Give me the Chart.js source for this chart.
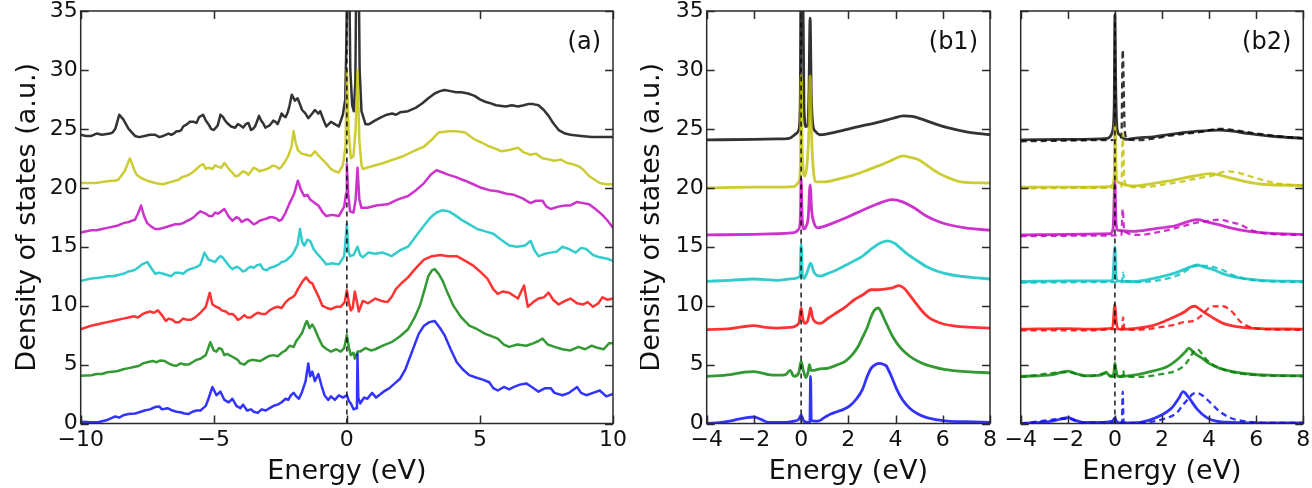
<!DOCTYPE html>
<html>
<head>
<meta charset="utf-8">
<script src="https://cdn.jsdelivr.net/npm/chart.js@4.4.1/dist/chart.umd.min.js"></script>
<style>
  html, body { margin: 0; padding: 0; background: #fff; }
  #wrap { position: relative; width: 1312px; height: 488px; background: #fff; overflow: hidden; }
  canvas { position: absolute; top: 0; }
</style>
</head>
<body>
<div id="wrap">
  <canvas id="ca" width="640" height="488" style="left:0px"></canvas>
  <canvas id="cb1" width="360" height="488" style="left:640px"></canvas>
  <canvas id="cb2" width="312" height="488" style="left:1000px"></canvas>
</div>
<script>
// ---------- tick labels / axis ranges ----------
const yTicks = [0, 5, 10, 15, 20, 25, 30, 35];
const xTicksA = [-10, -5, 0, 5, 10];
const xTicksB = [-4, -2, 0, 2, 4, 6, 8];
const panelLabels = ['(a)', '(b1)', '(b2)'];
const xTitle = 'Energy (eV)';
const yTitle = 'Density of states (a.u.)';

// ---------- panel (a): [energy, DOS] (points sorted by energy when plotted) ----------
const aBlue = [[-10,0.15],[-9.6,0.1],[-9.35,0.1],[-9.0,0.3],[-8.7,0.6],[-8.55,0.5],[-8.4,0.7],[-8.2,0.8],[-7.96,0.85],[-7.8,0.95],[-7.6,1.1],[-7.4,1.2],[-7.2,1.4],[-7.05,1.45],[-6.95,1.2],[-6.74,1.3],[-6.55,1.1],[-6.4,1.0],[-6.25,0.95],[-6.1,0.85],[-5.95,0.8],[-5.8,1.0],[-5.65,1.1],[-5.5,1.1],[-5.4,1.3],[-5.3,1.5],[-5.2,2.1],[-5.05,3.1],[-4.9,2.4],[-4.75,2.7],[-4.6,2.0],[-4.44,1.8],[-4.3,2.1],[-4.15,1.5],[-4.0,1.3],[-3.9,1.6],[-3.75,1.1],[-3.6,1.2],[-3.5,1.0],[-3.35,0.9],[-3.2,1.2],[-3.05,1.1],[-2.9,1.3],[-2.75,1.5],[-2.6,1.6],[-2.45,1.8],[-2.3,2.1],[-2.2,2.0],[-2.1,2.4],[-2.0,2.6],[-1.9,2.3],[-1.8,2.1],[-1.68,2.7],[-1.55,3.6],[-1.45,5.1],[-1.38,4.0],[-1.3,4.4],[-1.2,3.6],[-1.07,4.2],[-0.95,3.2],[-0.84,2.4],[-0.7,2.0],[-0.6,2.3],[-0.45,2.0],[-0.3,2.4],[-0.15,2.2],[0,2.4],[0.08,1.9],[0.15,1.7],[0.25,1.2],[0.35,1.3],[0.38,1.6],[0.4,5.9],[0.43,2.2],[0.5,1.7],[0.65,2.2],[0.77,2.1],[0.95,2.6],[1.1,2.2],[1.38,2.7],[1.6,3.0],[1.8,3.4],[2.0,3.8],[2.2,4.6],[2.45,6.1],[2.7,7.6],[2.9,8.3],[3.1,8.6],[3.3,8.7],[3.5,8.1],[3.67,7.5],[3.9,6.3],[4.13,5.2],[4.35,4.6],[4.6,4.1],[4.85,3.9],[5.13,3.7],[5.35,3.5],[5.5,3.0],[5.67,2.8],[5.9,3.1],[6.1,2.9],[6.28,3.1],[6.5,3.3],[6.74,3.4],[6.95,3.1],[7.2,2.7],[7.45,3.0],[7.66,3.0],[7.8,2.6],[8.1,2.4],[8.35,2.6],[8.65,3.1],[8.8,2.6],[9.0,2.4],[9.25,2.6],[9.5,2.8],[9.75,2.3],[10,2.5]];
const aGreen = [[-10,4.05],[-9.6,4.1],[-9.2,4.2],[-8.8,4.4],[-8.4,4.6],[-8.0,4.8],[-7.66,5.1],[-7.3,5.3],[-7.0,5.35],[-6.7,5.1],[-6.4,4.9],[-6.1,5.0],[-5.8,5.2],[-5.5,5.5],[-5.3,5.8],[-5.13,6.9],[-5.0,6.2],[-4.9,6.1],[-4.7,6.3],[-4.5,5.9],[-4.25,5.6],[-4.0,5.1],[-3.7,5.3],[-3.4,5.35],[-3.1,5.5],[-2.76,5.8],[-2.45,6.0],[-2.15,6.6],[-1.9,7.0],[-1.68,7.7],[-1.55,8.5],[-1.5,8.7],[-1.4,8.1],[-1.3,8.4],[-1.2,8.0],[-1.05,7.2],[-0.92,6.6],[-0.75,6.3],[-0.6,6.1],[-0.4,6.3],[-0.23,6.1],[-0.1,6.4],[0,7.5],[0.08,6.4],[0.15,5.8],[0.25,6.0],[0.3,5.5],[0.4,6.1],[0.5,6.1],[0.7,6.4],[0.9,6.2],[1.07,6.3],[1.35,6.6],[1.68,6.9],[2.0,7.4],[2.3,8.0],[2.55,9.0],[2.76,10.1],[2.95,11.6],[3.06,12.5],[3.2,13.0],[3.3,13.1],[3.45,12.7],[3.6,12.1],[3.8,11.0],[4.0,10.0],[4.3,9.0],[4.6,8.3],[4.9,8.0],[5.2,7.6],[5.45,7.4],[5.67,7.2],[5.9,6.7],[6.1,6.5],[6.4,6.7],[6.74,6.6],[7.0,6.8],[7.2,7.0],[7.35,7.2],[7.55,6.7],[7.8,6.5],[8.1,6.3],[8.4,6.2],[8.7,6.5],[8.95,6.3],[9.2,6.6],[9.45,6.4],[9.65,6.3],[9.85,6.8],[10,6.8],
  [-9.4,4.2],[-9.0,4.35],[-8.6,4.45],[-8.2,4.7],[-7.8,4.9],[-7.5,5.2],[-7.15,5.2],[-6.85,5.3],[-6.55,4.95],[-6.25,5.1],[-5.95,5.0],[-5.65,5.4],[-4.8,6.4],[-4.6,5.8],[-4.1,5.4],[-3.85,5.0],[-3.55,5.4],[-3.25,5.3],[-2.95,5.7],[-2.6,5.7],[-2.3,6.2],[-2.0,6.5],[-1.8,7.3]];
const aRed = [[-10,8.0],[-9.6,8.3],[-9.2,8.5],[-8.8,8.7],[-8.4,8.9],[-8.0,9.1],[-7.66,9.3],[-7.4,9.5],[-7.1,9.6],[-6.95,9.2],[-6.8,8.7],[-6.55,8.8],[-6.3,8.6],[-6.0,8.8],[-5.7,9.0],[-5.5,9.4],[-5.3,9.9],[-5.15,11.1],[-5.05,10.1],[-4.9,9.9],[-4.7,9.6],[-4.44,9.3],[-4.2,9.1],[-4.0,8.9],[-3.75,9.0],[-3.5,9.2],[-3.2,9.3],[-2.9,9.6],[-2.6,9.9],[-2.3,10.3],[-2.05,10.7],[-1.84,11.4],[-1.65,12.1],[-1.53,12.4],[-1.4,12.0],[-1.3,11.9],[-1.2,11.4],[-1.05,10.7],[-0.92,10.0],[-0.75,9.8],[-0.6,9.7],[-0.4,9.9],[-0.23,9.9],[-0.08,10.3],[0,11.3],[0.08,10.2],[0.15,9.6],[0.22,9.8],[0.3,11.2],[0.38,10.3],[0.45,9.5],[0.6,10.4],[0.8,10.2],[1.07,10.6],[1.3,10.4],[1.53,10.3],[1.7,10.8],[1.84,11.4],[2.05,11.9],[2.3,12.4],[2.6,13.2],[2.9,13.9],[3.2,14.2],[3.52,14.3],[3.8,14.2],[4.13,14.2],[4.45,13.8],[4.75,13.4],[5.0,12.9],[5.28,12.3],[5.5,11.4],[5.67,11.0],[5.85,11.2],[6.1,11.1],[6.3,10.8],[6.43,10.6],[6.55,11.2],[6.66,11.7],[6.75,10.5],[6.8,9.9],[7.0,10.3],[7.2,10.6],[7.4,10.7],[7.58,11.1],[7.75,10.5],[7.96,10.1],[8.2,10.4],[8.4,10.6],[8.65,10.2],[8.88,10.1],[9.05,10.3],[9.25,9.9],[9.45,10.2],[9.6,10.7],[9.8,10.5],[10,10.6],
  [-9.4,8.4],[-9.0,8.6],[-8.6,8.8],[-8.2,9.0],[-7.85,9.0],[-7.55,9.4],[-7.25,9.4],[-6.7,8.9],[-6.45,8.6],[-6.15,8.9],[-5.85,8.8],[-5.6,9.2],[-4.8,9.8],[-4.55,9.5],[-4.3,9.3],[-4.1,8.8],[-3.85,9.2],[-3.6,9.0],[-3.35,9.4],[-3.05,9.3],[-2.75,9.8],[-2.45,9.8],[-2.15,10.6],[-1.95,10.9]];
const aCyan = [[-10,12.1],[-9.6,12.3],[-9.2,12.4],[-8.8,12.5],[-8.4,12.7],[-8.0,13.0],[-7.7,13.5],[-7.5,13.7],[-7.35,13.2],[-7.2,12.7],[-6.9,12.7],[-6.6,12.5],[-6.3,12.8],[-6.0,13.0],[-5.75,13.2],[-5.5,13.5],[-5.35,14.5],[-5.2,13.9],[-5.05,13.8],[-4.85,14.0],[-4.67,14.1],[-4.5,13.6],[-4.3,13.1],[-4.05,13.2],[-3.8,13.0],[-3.6,13.3],[-3.4,13.4],[-3.15,13.1],[-2.9,13.2],[-2.65,13.4],[-2.45,13.7],[-2.2,14.0],[-2.0,14.5],[-1.85,15.2],[-1.76,16.5],[-1.68,15.4],[-1.6,15.1],[-1.48,15.6],[-1.38,15.5],[-1.25,14.8],[-1.15,14.5],[-0.95,14.0],[-0.77,13.5],[-0.55,13.6],[-0.3,13.5],[-0.1,14.2],[0,16.9],[0.06,14.6],[0.12,14.2],[0.25,14.3],[0.4,15.0],[0.5,14.3],[0.6,14.1],[0.8,14.5],[1.07,14.4],[1.35,14.5],[1.68,14.2],[2.0,14.7],[2.3,15.0],[2.6,15.9],[2.9,16.8],[3.15,17.5],[3.37,17.9],[3.6,18.1],[3.83,18.0],[4.05,17.7],[4.3,17.3],[4.6,16.9],[4.9,16.5],[5.2,16.3],[5.5,16.1],[5.8,15.6],[6.1,15.1],[6.4,15.0],[6.7,15.1],[6.9,15.5],[7.05,14.7],[7.2,14.2],[7.45,14.4],[7.66,14.5],[7.9,14.6],[8.1,15.0],[8.35,14.8],[8.6,14.5],[8.8,14.9],[9.0,14.8],[9.25,14.3],[9.5,14.1],[9.75,14.0],[10,13.8],
  [-9.4,12.35],[-9.0,12.5],[-8.6,12.6],[-8.2,12.9],[-7.85,13.2],[-7.05,12.8],[-6.75,12.6],[-6.45,12.8],[-6.15,12.7],[-5.9,13.1],[-5.62,13.3],[-4.95,13.7],[-4.75,14.2],[-4.4,13.3],[-4.15,13.3],[-3.9,12.9],[-3.7,13.2],[-3.5,13.2],[-3.25,13.5],[-3.0,13.0],[-2.75,13.3],[-2.55,13.5],[-2.3,13.8],[-2.1,14.2]];
const aMagenta = [[-10,16.2],[-9.6,16.4],[-9.2,16.5],[-8.8,16.7],[-8.4,17.0],[-7.96,17.3],[-7.85,17.8],[-7.73,18.5],[-7.62,17.6],[-7.5,17.0],[-7.2,16.5],[-6.9,16.6],[-6.6,16.8],[-6.3,16.9],[-6.0,17.2],[-5.75,17.5],[-5.5,18.0],[-5.3,17.8],[-5.05,17.6],[-4.85,17.8],[-4.6,18.2],[-4.45,17.6],[-4.3,17.2],[-4.05,17.4],[-3.8,17.3],[-3.6,17.1],[-3.4,17.0],[-3.15,17.3],[-2.9,17.5],[-2.65,17.4],[-2.45,17.3],[-2.3,17.9],[-2.15,18.7],[-1.98,19.5],[-1.84,20.6],[-1.72,19.8],[-1.6,19.3],[-1.48,19.4],[-1.38,19.0],[-1.2,18.7],[-1.07,18.5],[-0.9,17.9],[-0.77,17.6],[-0.55,17.7],[-0.3,17.6],[-0.1,18.4],[-0.03,19.5],[0,22.0],[0.05,19.5],[0.12,18.0],[0.25,17.9],[0.33,19.0],[0.4,21.7],[0.47,19.0],[0.55,18.3],[0.77,18.3],[1.1,18.5],[1.53,18.6],[1.9,19.0],[2.3,19.3],[2.6,19.8],[2.9,20.4],[3.15,21.1],[3.37,21.5],[3.6,21.3],[3.83,21.1],[4.1,20.9],[4.44,20.6],[4.75,20.3],[5.05,20.0],[5.35,19.8],[5.67,19.7],[6.0,19.5],[6.28,19.4],[6.6,19.1],[6.9,18.7],[7.1,18.9],[7.35,18.9],[7.5,18.4],[7.66,18.2],[7.95,18.4],[8.2,18.5],[8.4,18.5],[8.65,18.8],[8.88,18.7],[9.1,18.6],[9.34,18.2],[9.6,17.7],[9.8,17.2],[10,16.6],
  [-9.4,16.4],[-9.0,16.6],[-8.6,16.8],[-8.2,17.1],[-7.35,16.7],[-7.05,16.5],[-6.75,16.7],[-6.45,16.9],[-6.15,17.0],[-5.9,17.3],[-5.62,17.8],[-5.4,17.9],[-5.18,17.6],[-4.95,17.9],[-4.72,18.0],[-4.15,17.5],[-3.95,17.1],[-3.7,17.3],[-3.5,16.9],[-3.28,17.2],[-3.0,17.4],[-2.78,17.5],[-2.55,17.2]];
const aYellow = [[-10,20.4],[-9.6,20.4],[-9.2,20.5],[-8.8,20.6],[-8.58,20.7],[-8.35,21.4],[-8.15,22.5],[-8.0,21.6],[-7.9,21.1],[-7.7,20.8],[-7.5,20.6],[-7.2,20.4],[-6.9,20.3],[-6.6,20.5],[-6.3,20.7],[-6.05,21.0],[-5.8,21.3],[-5.6,21.7],[-5.4,22.0],[-5.2,21.7],[-5.05,21.6],[-4.85,21.8],[-4.6,22.1],[-4.4,21.5],[-4.2,21.0],[-4.0,21.2],[-3.8,21.3],[-3.6,21.4],[-3.4,21.6],[-3.15,21.5],[-2.9,21.7],[-2.65,21.8],[-2.45,21.8],[-2.3,22.3],[-2.2,22.7],[-2.08,23.5],[-2.0,24.8],[-1.92,23.8],[-1.84,23.2],[-1.7,22.9],[-1.53,22.8],[-1.35,22.7],[-1.2,23.1],[-1.05,22.7],[-0.92,22.4],[-0.75,22.0],[-0.6,21.6],[-0.45,21.4],[-0.3,21.3],[-0.15,21.9],[-0.05,23.5],[0,30.0],[0.06,25.0],[0.15,22.5],[0.25,22.7],[0.33,25.0],[0.4,30.0],[0.47,24.0],[0.55,21.9],[0.6,21.6],[0.9,21.8],[1.38,22.1],[1.75,22.4],[2.14,22.7],[2.5,23.1],[2.9,23.5],[3.2,24.1],[3.45,24.7],[3.83,24.8],[4.1,24.8],[4.44,24.7],[4.8,24.1],[5.1,23.8],[5.36,23.5],[5.6,23.3],[5.8,23.1],[6.1,23.2],[6.43,23.4],[6.65,23.0],[6.9,22.8],[7.1,22.9],[7.35,22.5],[7.6,22.4],[7.8,22.3],[8.05,22.4],[8.27,22.1],[8.5,22.0],[8.73,21.8],[8.9,21.5],[9.1,21.0],[9.3,20.7],[9.5,20.4],[9.75,20.3],[10,20.3],
  [-9.4,20.4],[-9.0,20.55],[-8.7,20.6],[-7.05,20.35],[-6.75,20.4],[-6.45,20.6],[-6.2,20.9],[-5.95,21.1],[-5.7,21.5],[-5.5,21.9],[-5.3,21.6],[-4.95,21.9],[-4.72,21.7],[-4.5,21.8],[-4.3,21.3],[-4.1,21.0],[-3.9,21.4],[-3.7,21.1],[-3.5,21.7],[-3.28,21.4],[-3.0,21.6],[-2.78,21.9],[-2.55,21.6]];
const aBlack = [[-10,24.5],[-9.6,24.4],[-9.2,24.5],[-8.9,24.6],[-8.7,25.0],[-8.55,26.2],[-8.4,25.8],[-8.2,25.0],[-7.96,24.4],[-7.6,24.4],[-7.2,24.5],[-6.9,24.4],[-6.7,24.6],[-6.5,24.6],[-6.3,24.8],[-6.15,25.2],[-6.0,25.4],[-5.75,25.6],[-5.55,26.0],[-5.4,26.2],[-5.2,25.4],[-5.0,24.9],[-4.85,25.3],[-4.75,26.2],[-4.6,25.8],[-4.5,25.5],[-4.35,25.2],[-4.2,25.1],[-4.0,25.3],[-3.8,25.4],[-3.6,24.9],[-3.45,25.2],[-3.3,26.1],[-3.15,25.5],[-3.06,25.1],[-2.9,25.3],[-2.76,25.7],[-2.6,25.4],[-2.45,26.3],[-2.3,26.0],[-2.15,27.0],[-2.07,27.9],[-1.95,27.4],[-1.85,27.6],[-1.68,26.6],[-1.55,26.3],[-1.45,25.9],[-1.3,26.3],[-1.2,26.6],[-1.07,26.3],[-1.0,26.5],[-0.85,25.6],[-0.77,25.2],[-0.6,25.6],[-0.45,25.4],[-0.3,25.2],[-0.15,26.2],[-0.06,27.5],[-0.02,32],[0.02,40],[0.08,40],[0.13,30],[0.2,27.0],[0.26,26.5],[0.32,29],[0.36,40],[0.44,40],[0.48,30],[0.55,26.5],[0.7,25.4],[0.84,25.4],[1.05,25.7],[1.3,26.0],[1.5,26.2],[1.7,26.3],[1.85,26.2],[2.0,26.4],[2.3,26.5],[2.6,26.8],[2.85,27.2],[3.06,27.6],[3.3,28.0],[3.5,28.2],[3.67,28.3],[3.9,28.2],[4.1,28.1],[4.3,28.1],[4.55,28.0],[4.8,27.8],[5.0,27.5],[5.2,27.3],[5.36,27.2],[5.6,27.0],[5.97,26.9],[6.2,27.0],[6.43,26.9],[6.65,27.0],[6.8,27.1],[7.0,27.1],[7.2,27.0],[7.4,26.6],[7.58,26.1],[7.75,25.5],[7.96,24.9],[8.2,24.6],[8.4,24.5],[8.8,24.4],[9.2,24.3],[9.6,24.3],[10,24.3],
  [-9.8,24.4],[-9.4,24.6],[-8.8,24.7],[-7.8,24.3],[-7.4,24.5],[-7.05,24.3],[-6.6,24.5],[-6.4,24.8],[-6.22,24.9],[-5.9,25.6],[-5.65,25.5],[-5.3,25.7],[-5.1,25.0],[-4.92,25.1],[-4.65,26.0],[-4.1,25.4],[-3.9,25.1],[-3.7,25.5],[-3.53,25.0],[-3.38,25.6],[-3.22,25.7],[-2.98,25.2],[-2.83,25.5],[-2.68,25.6],[-2.53,25.8],[-2.38,26.1],[-2.22,26.4]];

// ---------- panel (b1) ----------
const b1Blue = [[-4,0],[-3.4,0.1],[-2.8,0.3],[-2.3,0.5],[-2.0,0.55],[-1.7,0.35],[-1.38,0.1],[-0.65,0.1],[-0.3,0.2],[-0.1,0.35],[0,0.7],[0.05,0.5],[0.12,0.2],[0.3,0.1],[0.37,0.1],[0.4,4.0],[0.43,0.3],[0.55,0.2],[0.7,0.2],[0.98,0.5],[1.25,0.8],[1.52,1.0],[1.8,1.2],[2.06,1.5],[2.35,2.1],[2.6,2.9],[2.8,4.0],[2.97,4.7],[3.15,5.0],[3.33,5.1],[3.5,5.0],[3.6,4.9],[3.8,4.1],[4.05,2.9],[4.3,2.0],[4.6,1.3],[4.95,0.8],[5.32,0.5],[5.8,0.3],[6.2,0.2],[7,0.15],[8,0.1]];
const b1Green = [[-4,4.0],[-3.0,4.15],[-2.4,4.35],[-2.0,4.4],[-1.7,4.3],[-1.38,4.15],[-1.0,4.1],[-0.65,4.15],[-0.47,4.5],[-0.3,4.0],[-0.1,4.3],[0,5.3],[0.08,4.6],[0.2,3.9],[0.3,4.4],[0.35,5.0],[0.42,4.5],[0.55,4.5],[0.7,4.6],[1.16,4.7],[1.5,4.95],[1.88,5.3],[2.15,5.8],[2.42,6.55],[2.6,7.3],[2.79,8.1],[2.95,9.0],[3.1,9.6],[3.26,9.8],[3.38,9.5],[3.5,8.95],[3.7,8.1],[3.87,7.4],[4.1,6.7],[4.42,6.0],[4.75,5.5],[5.14,5.1],[5.6,4.8],[6.05,4.6],[7,4.4],[8,4.3]];
const b1Red = [[-4,7.97],[-3,8.05],[-2.5,8.2],[-2,8.3],[-1.5,8.15],[-1,8.1],[-0.5,8.15],[-0.1,8.5],[0,9.8],[0.07,8.9],[0.15,8.5],[0.25,8.6],[0.35,9.3],[0.4,9.8],[0.47,9.1],[0.55,8.7],[0.8,8.5],[1.16,8.95],[1.5,9.4],[1.88,9.9],[2.25,10.5],[2.6,10.9],[2.97,11.35],[3.25,11.35],[3.5,11.4],[3.87,11.5],[4.14,11.7],[4.35,11.5],[4.6,10.9],[4.9,10.1],[5.14,9.5],[5.4,9.0],[5.68,8.7],[6.1,8.4],[6.6,8.25],[7.3,8.15],[8,8.1]];
const b1Cyan = [[-4,12.06],[-3,12.15],[-2,12.26],[-1,12.15],[-0.3,12.3],[-0.05,12.5],[0,15.2],[0.05,12.8],[0.12,12.3],[0.25,12.8],[0.4,13.6],[0.55,12.8],[0.8,12.5],[1.15,12.75],[1.52,13.05],[2.05,13.6],[2.6,14.2],[3.0,14.85],[3.33,15.3],[3.66,15.5],[3.95,15.3],[4.42,14.5],[4.85,13.9],[5.32,13.3],[5.8,12.9],[6.4,12.6],[7.2,12.4],[8,12.26]];
const b1Magenta = [[-4,16.0],[-2,16.05],[-1,16.1],[-0.3,16.2],[-0.1,16.5],[-0.03,17.5],[0,20.8],[0.04,17.8],[0.1,16.5],[0.2,16.7],[0.3,17.5],[0.38,20.25],[0.45,18.0],[0.55,17.0],[0.7,16.6],[1.0,16.75],[1.34,17.0],[1.95,17.5],[2.6,18.1],[3.2,18.6],[3.6,18.9],[3.87,19.0],[4.3,18.8],[4.78,18.3],[5.3,17.6],[5.86,17.1],[6.4,16.8],[6.95,16.6],[8,16.4]];
const b1Yellow = [[-4,20.0],[-2,20.05],[-1,20.05],[-0.3,20.1],[-0.1,20.5],[-0.03,22],[0,29.5],[0.05,23],[0.15,21.0],[0.25,22.0],[0.33,25],[0.38,29.5],[0.45,24],[0.52,21.5],[0.6,20.5],[0.98,20.5],[1.6,20.75],[2.24,21.1],[2.8,21.5],[3.33,21.9],[3.8,22.3],[4.33,22.7],[4.6,22.6],[4.96,22.4],[5.4,21.8],[5.86,21.2],[6.3,20.8],[6.77,20.5],[8,20.4]];
const b1Black = [[-4,24.07],[-2,24.1],[-1,24.15],[-0.5,24.2],[-0.2,24.6],[-0.1,24.9],[-0.04,27],[0,40],[0.06,40],[0.12,27],[0.2,25.2],[0.28,25.3],[0.33,28],[0.38,34.4],[0.43,28],[0.5,25.3],[0.6,24.8],[0.8,24.5],[1.5,24.75],[2.24,25.1],[2.8,25.35],[3.33,25.6],[3.9,25.9],[4.33,26.1],[4.7,26.05],[5.14,25.8],[5.7,25.4],[6.2,25.1],[7,24.75],[8,24.5]];

// ---------- panel (b2): solid and dashed ----------
const b2Blue = [[-4,0],[-3.2,0.1],[-2.64,0.2],[-2.0,0.5],[-1.7,0.3],[-1.37,0.1],[-0.5,0.1],[-0.1,0.2],[0,0.5],[0.06,0.2],[0.2,0.05],[0.8,0.05],[1.4,0.25],[1.98,0.72],[2.4,1.3],[2.7,2.1],[2.9,2.7],[3.1,2.3],[3.5,1.2],[3.9,0.5],[4.3,0.2],[4.97,0.1],[6,0.05],[8,0.05]];
const b2BlueD = [[-4,0],[-2.0,0.4],[-1.37,0.05],[-0.1,0.05],[0.3,0.05],[0.33,2.7],[0.37,0.1],[1.0,0.05],[2.0,0.35],[2.62,0.9],[2.9,1.6],[3.12,2.1],[3.3,2.5],[3.47,2.6],[3.7,2.4],[4.04,1.8],[4.46,1.0],[5.0,0.4],[5.5,0.2],[6.5,0.05],[8,0.05]];
const b2Green = [[-4,4.0],[-2.64,4.15],[-2.0,4.45],[-1.6,4.2],[-1.2,4.05],[-0.6,4.1],[-0.37,4.35],[-0.2,4.0],[-0.05,4.2],[0,5.15],[0.06,4.4],[0.12,4.0],[0.8,4.1],[1.5,4.4],[2.25,4.85],[2.75,5.6],[3.0,6.1],[3.14,6.4],[3.35,6.0],[3.7,5.55],[4.0,5.1],[4.43,4.7],[5.0,4.4],[5.7,4.2],[6.5,4.1],[8,4.05]];
const b2GreenD = [[-4,3.95],[-2.0,4.35],[-1.2,4.0],[-0.37,4.25],[-0.1,3.95],[0.3,3.95],[0.35,4.5],[0.4,4.0],[1.0,3.95],[2.0,4.2],[2.62,4.5],[2.98,5.0],[3.16,5.5],[3.35,6.1],[3.5,6.3],[3.7,5.9],[3.9,5.4],[4.45,4.7],[5.0,4.35],[5.7,4.15],[8,4.0]];
const b2Red = [[-4,8.0],[-2,8.05],[-1,8.0],[-0.1,8.1],[0,10.1],[0.06,8.6],[0.15,8.0],[0.8,8.05],[1.6,8.3],[2.25,8.8],[2.7,9.2],[2.98,9.5],[3.2,9.85],[3.4,9.95],[3.6,9.7],[3.9,9.3],[4.3,8.8],[4.6,8.5],[5.1,8.25],[5.7,8.1],[8,8.0]];
const b2RedD = [[-4,7.9],[-1,7.9],[-0.1,8.0],[0.3,7.95],[0.35,9.0],[0.4,8.0],[1.0,7.95],[2.0,8.2],[2.6,8.4],[2.9,8.6],[3.34,8.7],[3.7,9.2],[4.07,9.9],[4.38,9.95],[4.6,9.95],[4.85,9.7],[5.06,9.3],[5.3,8.7],[5.5,8.4],[6.0,8.05],[8,7.95]];
const b2Cyan = [[-4,12.05],[-2,12.1],[-0.1,12.1],[0,15.0],[0.05,12.5],[0.12,12.1],[0.8,12.05],[1.6,12.3],[2.6,12.8],[3.1,13.2],[3.5,13.45],[3.75,13.3],[4.25,13.0],[4.6,12.7],[5.3,12.35],[6.2,12.15],[8,12.05]];
const b2CyanD = [[-4,11.95],[-0.1,12.0],[0.3,12.0],[0.35,12.8],[0.4,12.1],[1.0,12.0],[2.0,12.2],[2.8,12.7],[3.3,13.3],[3.5,13.4],[4.0,13.35],[4.6,13.0],[5.0,12.6],[5.5,12.3],[6.2,12.1],[8,12.0]];
const b2Magenta = [[-4,16.0],[-2,16.05],[-0.2,16.1],[-0.08,16.5],[0,20.5],[0.05,17.0],[0.12,16.4],[0.8,16.3],[1.6,16.5],[2.6,16.8],[3.2,17.2],[3.52,17.3],[3.9,17.1],[4.43,16.85],[5.0,16.55],[5.7,16.3],[6.5,16.15],[8,16.05]];
const b2MagentaD = [[-4,15.9],[-0.2,15.95],[0.28,16.0],[0.33,18.2],[0.4,16.3],[1.0,16.0],[2.0,16.3],[2.8,16.7],[3.52,17.06],[4.0,17.2],[4.43,17.3],[4.9,17.1],[5.3,16.9],[5.8,16.4],[6.5,16.1],[8,16.0]];
const b2Yellow = [[-4,20.05],[-2,20.05],[-0.2,20.1],[-0.1,20.25],[-0.03,21],[0,25.5],[0.05,21.5],[0.12,20.5],[0.8,20.17],[1.7,20.4],[2.6,20.7],[3.4,21.0],[4.07,21.2],[4.5,21.05],[4.97,20.8],[5.6,20.5],[6.24,20.3],[8,20.2]];
const b2YellowD = [[-4,19.95],[-0.2,20.0],[0.28,20.1],[0.33,24.6],[0.4,20.8],[0.5,20.2],[1.0,20.05],[2.6,20.45],[3.5,20.8],[4.07,21.0],[4.8,21.4],[5.2,21.3],[5.7,21.0],[6.8,20.4],[8,20.15]];
const b2Black = [[-4,24.07],[-2,24.1],[-0.3,24.2],[-0.2,24.35],[-0.1,24.8],[-0.03,27],[0,34.7],[0.04,28],[0.1,24.9],[0.2,24.5],[0.44,24.1],[0.8,24.2],[1.71,24.35],[2.6,24.6],[3.52,24.8],[4.43,24.9],[5.0,24.8],[5.7,24.6],[6.8,24.35],[8,24.2]];
const b2BlackD = [[-4,23.95],[-0.2,24.05],[0.28,24.3],[0.33,31.7],[0.42,24.8],[0.55,24.1],[1.0,24.05],[2.6,24.5],[3.52,24.7],[4.5,25.0],[5.5,24.75],[6.8,24.4],[8,24.2]];

// Fermi-level marker (dashed vertical line)
const fermiLine = [[0, 0], [0, 35]];

// ---------- styling ----------
const COL = {
  blue: 'rgba(0,0,255,0.8)', green: 'rgba(0,128,0,0.8)', red: 'rgba(255,0,0,0.8)',
  cyan: 'rgba(0,191,191,0.8)', magenta: 'rgba(191,0,191,0.8)', yellow: 'rgba(191,191,0,0.8)',
  black: 'rgba(0,0,0,0.8)'
};
const FONT = '"DejaVu Sans", "Bitstream Vera Sans", sans-serif';
const TEXT = '#111';

function ds(data, color, opts = {}) {
  const pts = data.slice().sort((p, q) => p[0] - q[0]);
  return Object.assign({
    data: pts.map(p => ({ x: p[0], y: p[1] })),
    borderColor: color, backgroundColor: color,
    borderWidth: 2.5, pointRadius: 0, pointHoverRadius: 0,
    fill: false, tension: 0, borderJoinStyle: 'round', borderCapStyle: 'round'
  }, opts);
}
function fermi() {
  return ds(fermiLine, 'rgba(0,0,0,0.85)', { borderWidth: 1.6, borderDash: [5, 4], borderCapStyle: 'butt' });
}

const framePlugin = {
  id: 'frame',
  afterDatasetsDraw(chart, args, opts) {
    const { ctx, chartArea: ca, scales: { x, y } } = chart;
    ctx.save();
    ctx.strokeStyle = '#2a2a2a';
    ctx.lineWidth = 1.5;
    const L = 8;
    ctx.beginPath();
    opts.xTicks.forEach(v => {
      const px = Math.round(x.getPixelForValue(v)) + 0.5;
      ctx.moveTo(px, ca.bottom); ctx.lineTo(px, ca.bottom - L);
      ctx.moveTo(px, ca.top); ctx.lineTo(px, ca.top + L);
    });
    opts.yTicks.forEach(v => {
      const py = Math.round(y.getPixelForValue(v)) + 0.5;
      ctx.moveTo(ca.left, py); ctx.lineTo(ca.left + L, py);
      ctx.moveTo(ca.right, py); ctx.lineTo(ca.right - L, py);
    });
    ctx.stroke();
    ctx.strokeRect(ca.left, ca.top, ca.right - ca.left, ca.bottom - ca.top);
    ctx.font = '24px ' + FONT;
    ctx.fillStyle = TEXT;
    ctx.textAlign = 'right';
    ctx.textBaseline = 'middle';
    ctx.fillText(opts.label, ca.right - 12, ca.top + 32);
    ctx.restore();
  }
};

const fmt = v => (v < 0 ? '\u2212' + Math.abs(v) : String(v));

function makeChart(id, datasets, xr, xTicks, yAxisWidth, rightPad, showY, yTitlePad, label) {
  return new Chart(document.getElementById(id), {
    type: 'line',
    data: { datasets },
    plugins: [framePlugin],
    options: {
      responsive: false, animation: false, devicePixelRatio: 1,
      events: [],
      layout: { padding: { left: 0, right: rightPad, top: 11, bottom: 0 } },
      plugins: {
        legend: { display: false }, tooltip: { enabled: false },
        frame: { xTicks, yTicks, label }
      },
      scales: {
        x: {
          type: 'linear', min: xr[0], max: xr[1],
          grid: { display: false, drawTicks: false }, border: { display: false },
          afterBuildTicks: s => { s.ticks = xTicks.map(v => ({ value: v })); },
          afterFit: s => { s.height = 64.5; s.paddingLeft = 0; s.paddingRight = 0; s.paddingTop = 0; s.paddingBottom = 0; },
          ticks: { padding: 4, color: TEXT, font: { family: FONT, size: 22 }, maxRotation: 0, autoSkip: false, callback: v => fmt(v) },
          title: { display: true, text: xTitle, color: TEXT, font: { family: FONT, size: 27, lineHeight: 1 }, padding: { top: 0, bottom: 2.5 } }
        },
        y: {
          type: 'linear', min: 0, max: 35,
          grid: { display: false, drawTicks: false }, border: { display: false },
          afterBuildTicks: s => { s.ticks = yTicks.map(v => ({ value: v })); },
          afterFit: s => { s.width = yAxisWidth; s.paddingLeft = 0; s.paddingRight = 0; s.paddingTop = 0; s.paddingBottom = 0; },
          ticks: { display: showY, padding: 3, color: TEXT, font: { family: FONT, size: 22 }, autoSkip: false, callback: v => fmt(v) },
          title: { display: showY, text: yTitle, color: TEXT, font: { family: FONT, size: 27, lineHeight: 1 }, padding: { top: yTitlePad, bottom: 0 } }
        }
      }
    }
  });
}

// dataset index 0 is drawn last (on top)
makeChart('ca', [
  fermi(),
  ds(aBlue, COL.blue), ds(aGreen, COL.green), ds(aRed, COL.red), ds(aCyan, COL.cyan),
  ds(aMagenta, COL.magenta), ds(aYellow, COL.yellow), ds(aBlack, COL.black)
], [-10, 10], xTicksA, 80.7, 27, true, 14, panelLabels[0]);

const smooth = { cubicInterpolationMode: 'monotone', borderWidth: 2.8 };
makeChart('cb1', [
  fermi(),
  ds(b1Blue, COL.blue, smooth), ds(b1Green, COL.green, smooth), ds(b1Red, COL.red, smooth), ds(b1Cyan, COL.cyan, smooth),
  ds(b1Magenta, COL.magenta, smooth), ds(b1Yellow, COL.yellow, smooth), ds(b1Black, COL.black, smooth)
], [-4, 8], xTicksB, 66.7, 10, true, -2, panelLabels[1]);

const dash = { cubicInterpolationMode: 'monotone', borderDash: [6, 4], borderWidth: 2.3, borderCapStyle: 'butt' };
makeChart('cb2', [
  fermi(),
  ds(b2Blue, COL.blue, smooth), ds(b2BlueD, COL.blue, dash),
  ds(b2Green, COL.green, smooth), ds(b2GreenD, COL.green, dash),
  ds(b2Red, COL.red, smooth), ds(b2RedD, COL.red, dash),
  ds(b2Cyan, COL.cyan, smooth), ds(b2CyanD, COL.cyan, dash),
  ds(b2Magenta, COL.magenta, smooth), ds(b2MagentaD, COL.magenta, dash),
  ds(b2Yellow, COL.yellow, smooth), ds(b2YellowD, COL.yellow, dash),
  ds(b2Black, COL.black, smooth), ds(b2BlackD, COL.black, dash)
], [-4, 8], xTicksB, 20.7, 8.7, false, 0, panelLabels[2]);
</script>
</body>
</html>
